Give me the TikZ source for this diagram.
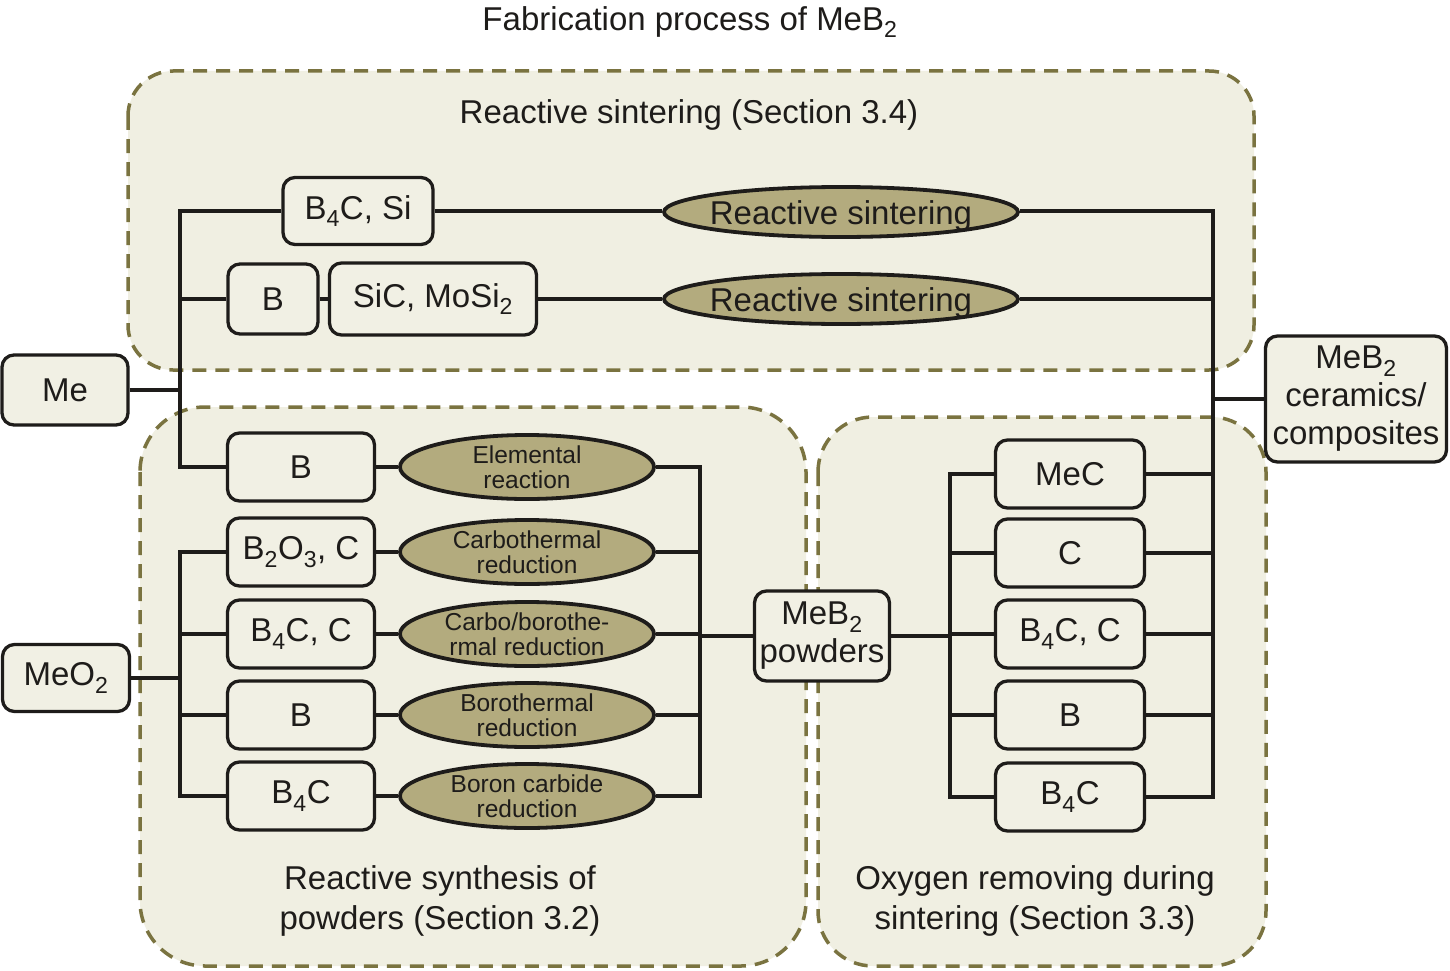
\documentclass[tikz,border=0pt]{standalone}
\usepackage{fontspec}
\setmainfont{Liberation Sans}
\usetikzlibrary{shapes.geometric}
\definecolor{panelfill}{HTML}{F0EFE2}
\definecolor{panelline}{HTML}{7A7340}
\definecolor{ovalfill}{HTML}{B3AB7E}
\definecolor{boxfill}{HTML}{F1F0E4}
\definecolor{ink}{HTML}{1E1C1A}
\newcommand\fsBig{\fontsize{33}{40}\selectfont}
\newcommand\fsBox{\fontsize{33}{38}\selectfont}
\newcommand\fsSmall{\fontsize{24.5}{24}\selectfont}
\newcommand\ovtext[2][8pt]{\lower#1\vbox to 0pt{\vss\hbox to 0pt{\hss\begin{tabular}{@{}c@{}}#2\end{tabular}\hss}\vss}}
\pgfdeclarelayer{bg}
\pgfsetlayers{bg,main}
\begin{document}
\begin{tikzpicture}[x=1pt,y=-1pt,
 panel/.style={fill=panelfill,draw=panelline,line width=3.5pt,dash pattern=on 14pt off 9pt},
 box/.style={draw=ink,fill=boxfill,line width=3.3pt,rounded corners=12pt,inner sep=0pt,text=ink,font=\fsBox,align=center},
 lbox/.style={box,minimum width=147pt,minimum height=68pt},
 rbox/.style={box,minimum width=149pt,minimum height=68pt},
 oval/.style={ellipse,draw=ink,fill=ovalfill,line width=3.8pt,inner sep=0pt,text=ink},
 bigoval/.style={oval,minimum width=354pt,minimum height=50pt,font=\fsBox},
 smoval/.style={oval,minimum width=254pt,minimum height=64pt,font=\fsSmall},
 wire/.style={draw=ink,line width=3.3pt},
 lbl/.style={text=ink,font=\fsBig,align=center}]

\useasboundingbox (0,0) rectangle (1450,971);

\begin{pgfonlayer}{bg}
 \fill[white] (0,0) rectangle (1450,971);
 \path[panel, rounded corners=45pt] (128,71) rectangle (1254,370);
 \path[panel, rounded corners=65pt] (140,407) rectangle (806,966);
 \path[panel, rounded corners=55pt] (818,417) rectangle (1266,966);
\end{pgfonlayer}

% labels
\node[lbl] (title) at (690,22) {Fabrication process of MeB\textsubscript{2}};
\node[lbl] (tsec) at (689,115) {Reactive sintering (Section 3.4)};
\node[lbl] (lsec) at (440,901) {Reactive synthesis of\\powders (Section 3.2)};
\node[lbl] (rsec) at (1035,901) {Oxygen removing during\\sintering (Section 3.3)};

% top panel
\node[box,minimum width=150pt,minimum height=67pt] (b4csi) at (358,211) {B\textsubscript{4}C, Si};
\node[bigoval] (rs1) at (841,212) {\ovtext[9pt]{Reactive sintering}};
\node[box,minimum width=90pt,minimum height=70pt] (bb) at (273,299) {B};
\node[box,minimum width=207pt,minimum height=72pt] (sic) at (433,299) {SiC, MoSi\textsubscript{2}};
\node[bigoval] (rs2) at (841,299) {\ovtext[9pt]{Reactive sintering}};

% sources and product
\node[box,minimum width=126pt,minimum height=70pt] (me) at (65,390) {Me};
\node[box,minimum width=127pt,minimum height=67pt] (meo2) at (66,678) {MeO\textsubscript{2}};
\node[box,minimum width=181pt,minimum height=126pt] (ceram) at (1356,399) {MeB\textsubscript{2}\\ceramics/\\composites};
\node[box,minimum width=135pt,minimum height=90pt] (powders) at (822,636) {MeB\textsubscript{2}\\powders};

% lower-left panel
\node[lbox] (l1) at (301,467) {B};
\node[lbox] (l2) at (301,552) {B\textsubscript{2}O\textsubscript{3}, C};
\node[lbox] (l3) at (301,634) {B\textsubscript{4}C, C};
\node[lbox] (l4) at (301,715) {B};
\node[lbox] (l5) at (301,796) {B\textsubscript{4}C};
\node[smoval] (o1) at (527,467) {\ovtext{Elemental\\reaction}};
\node[smoval] (o2) at (527,552) {\ovtext{Carbothermal\\reduction}};
\node[smoval] (o3) at (527,634) {\ovtext{Carbo/borothe-\\rmal reduction}};
\node[smoval] (o4) at (527,715) {\ovtext{Borothermal\\reduction}};
\node[smoval] (o5) at (527,796) {\ovtext{Boron carbide\\reduction}};

% lower-right panel
\node[rbox] (r1) at (1070,474) {MeC};
\node[rbox] (r2) at (1070,553) {C};
\node[rbox] (r3) at (1070,634) {B\textsubscript{4}C, C};
\node[rbox] (r4) at (1070,715) {B};
\node[rbox] (r5) at (1070,797) {B\textsubscript{4}C};

% bus coordinates
\coordinate (L1) at (180,211);
\coordinate (L2) at (180,467);
\coordinate (M1) at (180,552);
\coordinate (M2) at (180,796);
\coordinate (P1) at (700,467);
\coordinate (P2) at (700,796);
\coordinate (Q1) at (950,474);
\coordinate (Q2) at (950,797);
\coordinate (R1) at (1213,211);
\coordinate (R2) at (1213,797);

% connectors: Me branch
\draw[wire] (l1.west) -- (L2) -- (L1) -- (b4csi.west);
\draw[wire] (bb.west) -- (bb.west -| L1);
\draw[wire] (me.east) -- (me.east -| L1);
\draw[wire] (bb.east) -- (sic.west);
\draw[wire] (b4csi.east) -- (rs1.west |- b4csi.east);
\draw[wire] (sic.east) -- (rs2.west);
% right collector
\draw[wire] (rs1.east |- b4csi.east) -- (R1) -- (R2) -- (r5.east);
\draw[wire] (rs2.east) -- (rs2.east -| R1);
\draw[wire] (ceram.west) -- (ceram.west -| R1);
\foreach \n in {r1,r2,r3,r4} \draw[wire] (\n.east) -- (\n.east -| R1);
% right panel feeder
\draw[wire] (r1.west) -- (Q1) -- (Q2) -- (r5.west);
\foreach \n in {r2,r3,r4} \draw[wire] (\n.west) -- (\n.west -| Q1);
\draw[wire] (powders.east) -- (powders.east -| Q1);
% MeO2 branch
\draw[wire] (l2.west) -- (M1) -- (M2) -- (l5.west);
\foreach \n in {l3,l4} \draw[wire] (\n.west) -- (\n.west -| M1);
\draw[wire] (meo2.east) -- (meo2.east -| M1);
% boxes to ovals
\foreach \i in {1,...,5} \draw[wire] (l\i.east) -- (o\i.west);
% ovals to powders
\draw[wire] (o1.east) -- (P1) -- (P2) -- (o5.east);
\foreach \n in {o2,o3,o4} \draw[wire] (\n.east) -- (\n.east -| P1);
\draw[wire] (powders.west) -- (powders.west -| P1);
\end{tikzpicture}
\end{document}
